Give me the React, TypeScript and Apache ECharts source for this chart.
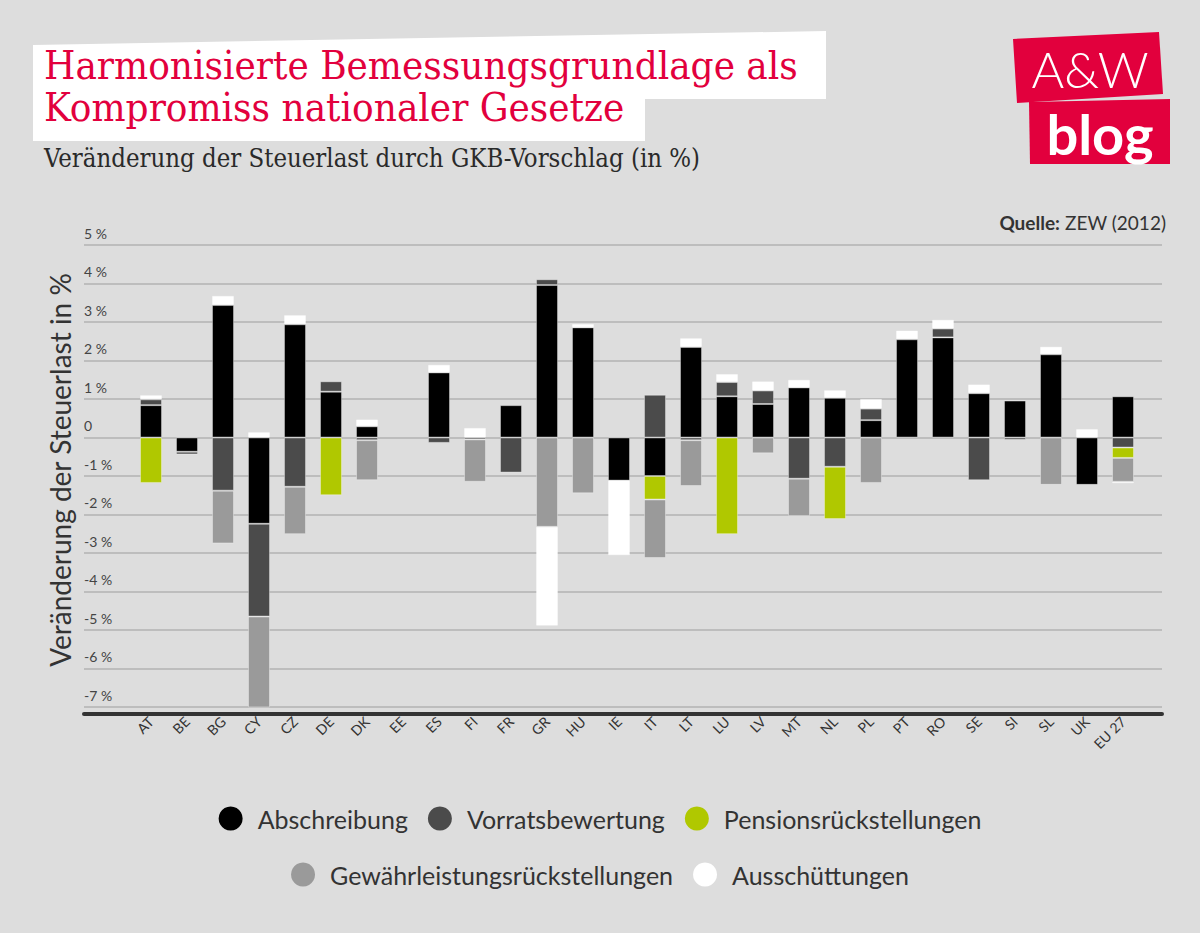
import React, { useEffect, useRef } from "react";
import * as echarts from "echarts";

const categories = ["AT", "BE", "BG", "CY", "CZ", "DE", "DK", "EE", "ES", "FI", "FR", "GR", "HU", "IE", "IT", "LT", "LU", "LV", "MT", "NL", "PL", "PT", "RO", "SE", "SI", "SL", "UK", "EU 27"];

const abschreibung = [0.84, -0.37, 3.44, -2.24, 2.94, 1.19, 0.29, 0, 1.69, 0, 0.84, 3.96, 2.86, -1.12, -1.0, 2.35, 1.07, 0.87, 1.3, 1.03, 0.45, 2.55, 2.6, 1.15, 0.96, 2.16, -1.23, 1.07];
const vorratsbewertung = [0.15, -0.07, -1.38, -2.41, -1.28, 0.27, -0.07, 0, -0.14, -0.05, -0.91, 0.15, 0, 0, 1.11, -0.07, 0.37, 0.35, -1.07, -0.76, 0.3, 0, 0.23, -1.11, -0.06, 0, 0, -0.26];
const pension = [-1.18, 0, 0, 0, 0, -1.5, 0, 0, 0, 0, 0, 0, 0, 0, -0.61, 0, -2.51, 0, 0, -1.36, 0, 0, 0, 0, 0, 0, 0, -0.27];
const gewaehrleistung = [0, 0, -1.37, -2.36, -1.23, 0, -1.04, 0, 0, -1.1, 0, -2.32, -1.45, 0, -1.52, -1.19, 0, -0.41, -0.97, 0, -1.18, 0, 0, 0, 0, -1.23, 0, -0.62];
const ausschuettungen = [0.11, 0, 0.24, 0.14, 0.24, 0, 0.18, 0, 0.2, 0.25, 0, -2.57, 0.09, -1.94, 0, 0.23, 0.21, 0.24, 0.2, 0.2, 0.25, 0.23, 0.23, 0.23, 0, 0.2, 0.22, -0.04];

const seriesNames = ["Abschreibung", "Vorratsbewertung", "Pensionsrückstellungen", "Gewährleistungsrückstellungen", "Ausschüttungen"];
const seriesColors = ["#000000", "#4b4b4b", "#b0c800", "#9a9a9a", "#ffffff"];
const yMin = -7;
const yMax = 5;
const yStep = 1;

const RED = "#e2003d";
const SANS = "Lato, 'Noto Sans', sans-serif";
const SERIF = "'DejaVu Serif Condensed', 'Liberation Serif', serif";

export default function App() {
  const ref = useRef<HTMLDivElement>(null);
  useEffect(() => {
    const chart = echarts.init(ref.current!, undefined, { renderer: "svg" });
    const values = [abschreibung, vorratsbewertung, pension, gewaehrleistung, ausschuettungen];
    const legendText = { fontSize: 25, color: "#333333", fontFamily: SANS, padding: [0, 0, 0, 10] };
    const option: any = {
      animation: false,
      backgroundColor: "#dddddd",
      textStyle: { fontFamily: SANS },
      grid: [
        { left: 84, right: 38, top: 245, height: 462 },
        { left: 133, right: 59, top: 245, height: 462 },
      ],
      xAxis: [
        {
          gridIndex: 0, type: "value", min: 0, max: 1, offset: 7, position: "bottom",
          axisLine: { show: true, onZero: false, lineStyle: { color: "#333333", width: 4 } },
          axisTick: { show: false }, axisLabel: { show: false }, splitLine: { show: false },
        },
        {
          gridIndex: 1, type: "category", data: categories,
          axisLine: { show: false }, axisTick: { show: false },
          axisLabel: { rotate: 45, margin: 12, fontSize: 14, color: "#333333", fontFamily: SANS, interval: 0 },
        },
      ],
      yAxis: [
        {
          gridIndex: 0, type: "value", min: yMin, max: yMax, interval: yStep,
          axisLine: { show: false }, axisTick: { show: false },
          splitLine: { lineStyle: { color: "#bdbdbd", width: 2 } },
          axisLabel: {
            inside: true, margin: 0, align: "left", verticalAlign: "bottom", padding: [0, 0, 5, 0],
            fontSize: 14, color: "#444444", fontFamily: SANS,
            formatter: (v: number) => (v === 0 ? "0" : `${v} %`),
          },
        },
        { gridIndex: 1, type: "value", min: yMin, max: yMax, interval: yStep, show: false, splitLine: { show: false } },
      ],
      legend: [
        {
          data: seriesNames.slice(0, 3), left: "center", top: 801, icon: "circle",
          itemWidth: 24, itemHeight: 24, itemGap: 20, itemStyle: { borderWidth: 0 },
          textStyle: legendText,
        },
        {
          data: seriesNames.slice(3), left: "center", top: 857, icon: "circle",
          itemWidth: 24, itemHeight: 24, itemGap: 20, itemStyle: { borderWidth: 0 },
          textStyle: legendText,
        },
      ],
      series: seriesNames.map((name, i) => ({
        name, type: "bar", stack: "total", xAxisIndex: 1, yAxisIndex: 1, barWidth: 22,
        data: values[i].map((v) => (v === 0 ? null : v)),
        itemStyle: { color: seriesColors[i], borderColor: "rgba(255,255,255,0.35)", borderWidth: 1 },
      })),
      graphic: [
        {
          type: "polygon", shape: { points: [[33, 45], [826, 31], [826, 99], [645, 99], [645, 141], [33, 141]] },
          style: { fill: "#ffffff" }, silent: true,
        },
        { type: "text", x: 44, y: 85, style: { text: "Harmonisierte Bemessungsgrundlage als", fill: RED, font: `40px ${SERIF}`, verticalAlign: "bottom" } },
        { type: "text", x: 44, y: 127, style: { text: "Kompromiss nationaler Gesetze", fill: RED, font: `40px ${SERIF}`, verticalAlign: "bottom" } },
        { type: "text", x: 44, y: 171, style: { text: "Veränderung der Steuerlast durch GKB-Vorschlag (in %)", fill: "#2a2a2a", font: `25.5px ${SERIF}`, verticalAlign: "bottom" } },
        { type: "polygon", shape: { points: [[1013, 39], [1159, 32], [1163, 94], [1017, 103]] }, style: { fill: RED } },
        { type: "polygon", shape: { points: [[1029, 102], [1170, 99], [1170, 164], [1030, 164]] }, style: { fill: RED } },
        { type: "text", x: 1090, y: 69, style: { text: "A&W", fill: "#ffffff", font: `300 50px ${SANS}`, align: "center", verticalAlign: "middle" } },
        { type: "text", x: 1100, y: 133, style: { text: "blog", fill: "#ffffff", font: `bold 56px ${SANS}`, align: "center", verticalAlign: "middle" } },
        {
          type: "text", x: 1166, y: 222,
          style: {
            text: "{b|Quelle:} ZEW (2012)", fill: "#333333", font: `19px ${SANS}`, align: "right", verticalAlign: "middle",
            rich: { b: { fontWeight: "bold", fontSize: 19, fontFamily: SANS, fill: "#333333" } },
          },
        },
        {
          type: "text", x: 60, y: 470, rotation: Math.PI / 2,
          style: { text: "Veränderung der Steuerlast in %", fill: "#333333", font: `28px ${SANS}`, align: "center", verticalAlign: "middle" },
        },
      ],
    };
    chart.setOption(option);
    return () => chart.dispose();
  }, []);
  return <div ref={ref} style={{ position: "fixed", left: 0, top: 0, width: 1200, height: 933 }} />;
}
